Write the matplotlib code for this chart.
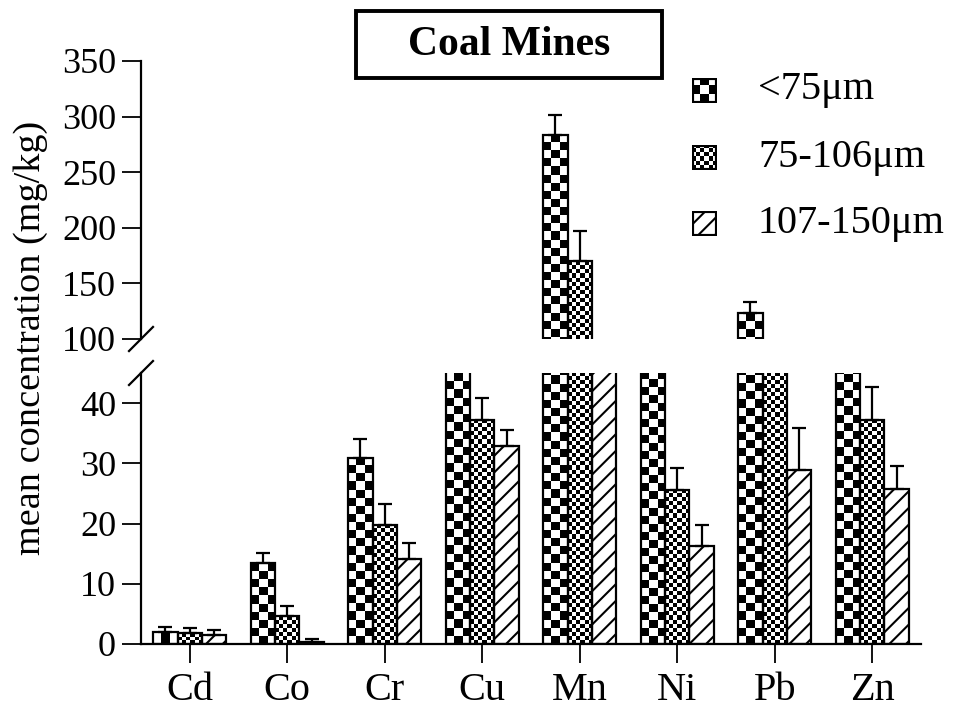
import numpy as np
import matplotlib
matplotlib.use("Agg")
import matplotlib.pyplot as plt
from matplotlib.patches import Rectangle

# data (mg/kg)
elements = ['Cd', 'Co', 'Cr', 'Cu', 'Mn', 'Ni', 'Pb', 'Zn']
series_names = ['<75μm', '75-106μm', '107-150μm']
fine_lt75 = [1.95, 13.4, 30.9, 60.0, 283.8, 52.0, 123.2, 68.0]
fine_lt75_err = [0.8, 1.7, 3.1, 5.0, 17.2, 5.0, 10.2, 6.0]
mid_75_106 = [1.8, 4.6, 19.8, 37.2, 169.8, 25.6, 85.0, 37.2]
mid_75_106_err = [0.8, 1.7, 3.4, 3.6, 27.7, 3.7, 8.0, 5.4]
coarse_107_150 = [1.55, 0.4, 14.1, 32.9, 80.0, 16.2, 28.9, 25.8]
coarse_107_150_err = [0.75, 0.4, 2.7, 2.6, 8.0, 3.5, 6.9, 3.8]

lower_ticks = [0, 10, 20, 30, 40]
upper_ticks = [100, 150, 200, 250, 300, 350]

plt.rcParams['font.family'] = ['Liberation Serif', 'DejaVu Serif']
plt.rcParams['hatch.linewidth'] = 1.5

W, H = 962, 711
fig = plt.figure(figsize=(W / 100, H / 100), dpi=100)


def px_rect(left, top, right, bottom):
    """pixel box (top-left origin) -> figure fraction rect"""
    return [left / W, 1 - bottom / H, (right - left) / W, (bottom - top) / H]


ax_lo = fig.add_axes(px_rect(141, 373, 921, 644))
ax_hi = fig.add_axes(px_rect(141, 61, 921, 339))
ax_lo.set_xlim(-0.5, 7.5)
ax_lo.set_ylim(0, 45)
ax_hi.set_xlim(-0.5, 7.5)
ax_hi.set_ylim(100, 350)

x = np.arange(len(elements))
bar_w = 0.25
series = [
    (fine_lt75, fine_lt75_err, 'coarse_checker'),
    (mid_75_106, mid_75_106_err, 'fine_checker'),
    (coarse_107_150, coarse_107_150_err, 'hatch'),
]


def checker(nx, ny):
    return (np.indices((ny, nx)).sum(axis=0) + 1) % 2


def draw_bars(ax):
    # pixels per data unit (limits and layout already fixed)
    p0, p1 = ax.transData.transform([[0, 0], [1, 1]])
    px_x, px_y = p1 - p0
    for i, (vals, errs, style) in enumerate(series):
        pos = x + (i - 1) * bar_w
        if style == 'hatch':
            ax.bar(pos, vals, width=bar_w, facecolor='white', edgecolor='black',
                   hatch='//', linewidth=1.6, zorder=2)
        else:
            bars = ax.bar(pos, vals, width=bar_w, facecolor='none',
                          edgecolor='black', linewidth=1.6, zorder=3)
            ncols = 3 if style == 'coarse_checker' else 6
            sq = bar_w * px_x / ncols
            for b in bars:
                x0, h = b.get_x(), b.get_height()
                nrows = max(1, int(round(h * px_y / sq)))
                ax.imshow(checker(ncols, nrows), cmap='gray', vmin=0, vmax=1,
                          extent=(x0, x0 + bar_w, 0, h), origin='lower',
                          aspect='auto', interpolation='nearest', zorder=1)
        ax.errorbar(pos, vals, yerr=[np.zeros(len(vals)), errs], fmt='none',
                    ecolor='black', elinewidth=1.6, capsize=5, capthick=1.6,
                    zorder=4)


for ax in (ax_lo, ax_hi):
    draw_bars(ax)
    for s in ('top', 'right'):
        ax.spines[s].set_visible(False)
    for s in ('left', 'bottom'):
        ax.spines[s].set_linewidth(1.6)
    ax.tick_params(axis='y', length=14, width=1.3, labelsize=26, pad=4)

# imshow may touch the limits, so set them again
ax_lo.set_xlim(-0.5, 7.5)
ax_lo.set_ylim(0, 45)
ax_lo.set_yticks(lower_ticks)
ax_lo.set_xticks(x)
ax_lo.set_xticklabels(elements)
ax_lo.tick_params(axis='x', length=14, width=1.3, labelsize=29, pad=6)

ax_hi.set_xlim(-0.5, 7.5)
ax_hi.set_ylim(100, 350)
ax_hi.set_yticks(upper_ticks)
ax_hi.spines['bottom'].set_visible(False)
ax_hi.set_xticks([])

# axis break marks
dx, dy = 12 / 780, 12 / 277
ax_hi.plot([-dx, dx], [-dy, dy], transform=ax_hi.transAxes, color='black',
           lw=1.6, clip_on=False)
dy = 12 / 271
ax_lo.plot([-dx, dx], [1 - dy, 1 + dy], transform=ax_lo.transAxes, color='black',
           lw=1.6, clip_on=False)

fig.text(31 / W, 1 - 338 / H, 'mean concentration (mg/kg)', rotation=90,
         ha='center', va='center', fontsize=27.5)

# title box
fig.patches.append(Rectangle((356 / W, 1 - 78 / H), 306 / W, 67 / H,
                             transform=fig.transFigure, facecolor='white',
                             edgecolor='black', linewidth=2.8))
fig.text(509 / W, 1 - 45 / H, 'Coal Mines', ha='center', va='center',
         fontsize=30, fontweight='bold')

# legend drawn by hand so the checker swatches match the bars
swatch_y = [90, 157, 223]
for i, name in enumerate(series_names):
    cy = swatch_y[i]
    sax = fig.add_axes(px_rect(692, cy - 12.5, 717, cy + 12.5))
    sax.set_xlim(0, 1)
    sax.set_ylim(0, 1)
    style = series[i][2]
    if style == 'hatch':
        sax.add_patch(Rectangle((0, 0), 1, 1, facecolor='white', edgecolor='black',
                                hatch='//', linewidth=3))
    else:
        n = 3 if style == 'coarse_checker' else 6
        sax.imshow(checker(n, n), cmap='gray', vmin=0, vmax=1, extent=(0, 1, 0, 1),
                   aspect='auto', interpolation='nearest')
        sax.add_patch(Rectangle((0, 0), 1, 1, facecolor='none', edgecolor='black',
                                linewidth=3))
    sax.axis('off')
    fig.text(758 / W, 1 - cy / H, name, ha='left', va='center', fontsize=29)

fig.savefig('out.png', dpi=100)
